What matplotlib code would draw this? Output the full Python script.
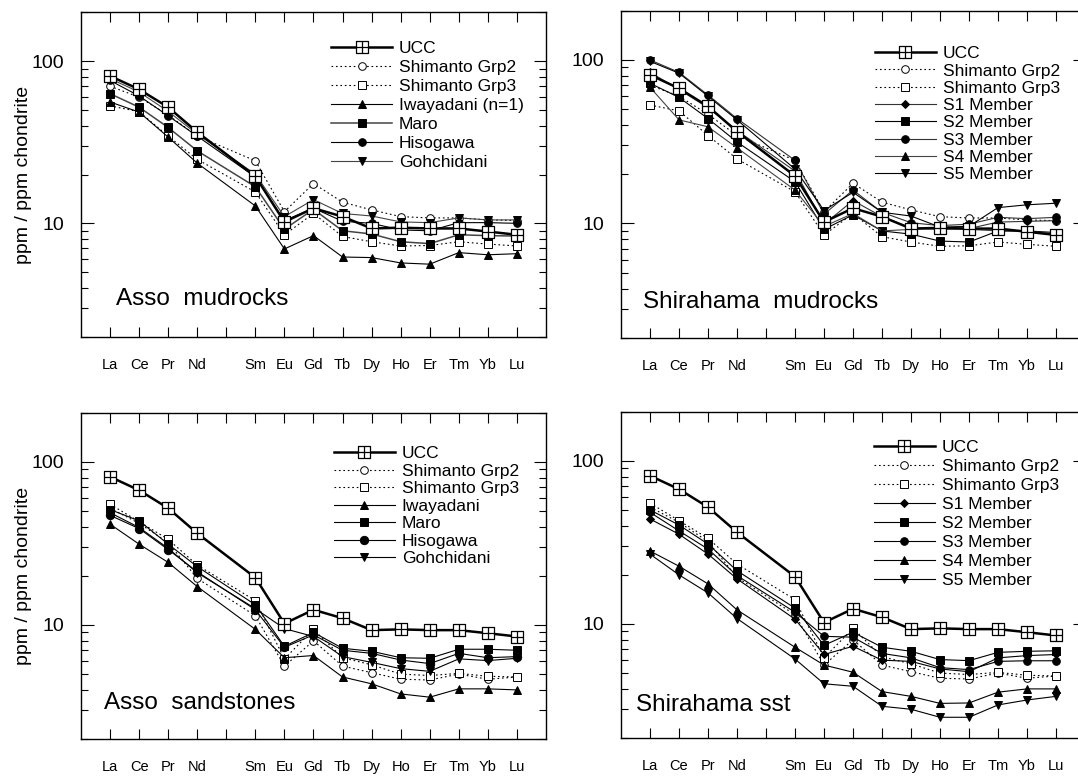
import numpy as np
import matplotlib.pyplot as plt
from matplotlib.path import Path

plt.rcParams['font.family'] = ['Liberation Sans', 'DejaVu Sans']

# REE axis (Pm keeps its slot but has no label)
ree_labels = ['La', 'Ce', 'Pr', 'Nd', '', 'Sm', 'Eu', 'Gd', 'Tb', 'Dy', 'Ho', 'Er', 'Tm', 'Yb', 'Lu']
xpos = [0, 1, 2, 3, 5, 6, 7, 8, 9, 10, 11, 12, 13, 14]

# chondrite-normalised values, La..Lu without Pm
ucc = [81, 67, 52, 36.5, 19.5, 10.2, 12.4, 11.0, 9.3, 9.4, 9.3, 9.3, 8.9, 8.5]

# mudrocks
grp2_mud = [70, 60, 46.5, 34.5, 24.3, 11.8, 17.6, 13.5, 12.1, 11.0, 10.8, 10.8, 10.5, 10.4]
grp3_mud = [53, 48.8, 34.5, 24.8, 15.6, 8.5, 11.5, 8.3, 7.7, 7.25, 7.3, 7.7, 7.45, 7.25]
iwayadani_mud = [56, 48.5, 34, 23.5, 12.8, 6.95, 8.4, 6.2, 6.15, 5.7, 5.6, 6.6, 6.4, 6.5]
maro_mud = [63, 52, 39, 28, 16.8, 9.2, 12.2, 9.0, 8.6, 7.7, 7.5, 8.5, 8.4, 8.35]
hisogawa_mud = [76, 61, 46, 34.5, 19.3, 10.4, 12.4, 10.3, 10.0, 9.1, 9.0, 10.1, 10.1, 10.0]
gohchidani_mud = [78, 64.5, 49, 35.5, 20.1, 11.0, 14.0, 11.5, 11.1, 10.2, 10.1, 10.8, 10.5, 10.5]

s1_mud = [84, 66, 51, 37, 20.9, 9.9, 13.8, 11.0, 9.4, 9.2, 9.3, 10.2, 10.3, 10.4]
s2_mud = [72, 59, 43.8, 31.5, 18.0, 9.2, 11.3, 9.0, 8.6, 7.8, 7.7, 9.0, 9.0, 8.8]
s3_mud = [100, 84, 61, 43.8, 24.3, 11.4, 16.0, 11.7, 10.1, 9.7, 9.9, 10.9, 10.7, 10.9]
s4_mud = [68, 43, 39, 29, 16.0, 9.6, 11.5, 9.0, 9.2, 9.3, 9.2, 9.0, 8.9, 8.7]
s5_mud = [98, 83, 60, 43, 21.5, 12.0, 15.5, 11.7, 11.1, 9.5, 9.6, 12.5, 13.0, 13.3]

# sandstones
grp2_sst = [52, 42, 32, 19.3, 11.4, 5.6, 8.0, 5.6, 5.1, 4.65, 4.6, 5.0, 4.65, 4.8]
grp3_sst = [55, 43, 33.5, 23.3, 14.1, 6.2, 9.4, 6.3, 5.7, 5.0, 4.9, 5.05, 4.85, 4.8]
iwayadani_sst = [41.5, 31.3, 24.2, 17.2, 9.4, 6.3, 6.5, 4.8, 4.36, 3.78, 3.61, 4.06, 4.06, 4.0]
maro_sst = [51, 43.5, 31.3, 22.8, 13.3, 7.4, 9.0, 7.2, 6.9, 6.3, 6.25, 7.1, 7.1, 7.0]
hisogawa_sst = [47, 39, 29, 21.2, 12.4, 7.3, 8.7, 7.0, 6.7, 6.1, 5.8, 6.7, 6.3, 6.4]
gohchidani_sst = [48.8, 39.6, 29.5, 20.9, 12.6, 9.5, 8.5, 6.4, 5.9, 5.4, 5.2, 6.2, 6.05, 6.25]

s1_sst = [44, 35.5, 26.8, 18.9, 10.7, 6.5, 7.3, 6.0, 5.9, 5.3, 5.1, 6.2, 6.4, 6.5]
s2_sst = [50, 40.4, 30.9, 21.2, 12.5, 7.4, 8.9, 7.2, 6.8, 6.05, 5.96, 6.7, 6.8, 6.85]
s3_sst = [48.3, 37.2, 28.8, 19.8, 11.8, 8.4, 8.3, 6.6, 6.2, 5.4, 5.25, 5.9, 5.95, 5.95]
s4_sst = [28, 22.6, 17.6, 12.2, 7.2, 5.6, 5.06, 3.85, 3.6, 3.26, 3.28, 3.82, 4.0, 4.0]
s5_sst = [26.8, 20, 15.5, 10.8, 6.1, 4.3, 4.15, 3.13, 3.0, 2.68, 2.68, 3.19, 3.42, 3.6]

# square with a cross inside, used for UCC
box_plus = Path([(-1, -1), (1, -1), (1, 1), (-1, 1), (-1, -1), (0, -1), (0, 1), (-1, 0), (1, 0)],
                [Path.MOVETO, Path.LINETO, Path.LINETO, Path.LINETO, Path.CLOSEPOLY,
                 Path.MOVETO, Path.LINETO, Path.MOVETO, Path.LINETO])

dotted = (0, (1.5, 2.5))


def style(marker, ms=5.5, open_marker=False, ls='-', lw=0.8, color='black'):
    return dict(marker=marker, ms=ms, mfc='white' if open_marker else 'black',
                mec='black', mew=0.7, ls=ls, lw=lw, color=color)


ucc_style = dict(marker=box_plus, ms=9, mfc='white', mec='black', mew=0.9, ls='-', lw=1.8, color='black')
grp2_style = style('o', 5.5, True, dotted)
grp3_style = style('s', 6, True, dotted)


def draw_panel(ax, series, title, title_xy, leg_xy, leg_spacing):
    handles = []
    for label, data, st in series:
        h, = ax.plot(xpos, data, label=label, zorder=3, **st)
        handles.append(h)
    # UCC sits on top of the other patterns
    h_ucc, = ax.plot(xpos, ucc, label='UCC', zorder=5, **ucc_style)
    handles.insert(0, h_ucc)

    ax.set_yscale('log')
    ax.set_ylim(2, 200)
    ax.set_xlim(-1, 15)
    ax.set_xticks(range(15))
    ax.set_xticklabels(ree_labels, fontsize=10.5)
    ax.set_yticks([10, 100])
    ax.set_yticklabels(['10', '100'], fontsize=14)
    ax.yaxis.set_minor_formatter(plt.NullFormatter())
    ax.tick_params(axis='x', which='both', direction='in', top=True, length=7, width=0.8, pad=15)
    ax.tick_params(axis='y', which='major', direction='in', right=True, length=9, width=0.8, pad=12)
    ax.tick_params(axis='y', which='minor', direction='in', right=True, length=5, width=0.8)
    for sp in ax.spines.values():
        sp.set_linewidth(1.0)

    ax.text(title_xy[0], title_xy[1], title, transform=ax.transAxes,
            fontsize=17.5, ha='left', va='center')
    ax.legend(handles=handles, loc='upper left', bbox_to_anchor=leg_xy, frameon=False,
              fontsize=12.5, handlelength=3.5, handletextpad=0.4, borderpad=0,
              borderaxespad=0, labelspacing=leg_spacing)


fig = plt.figure(figsize=(10.78, 7.78), dpi=100)
ax_tl = fig.add_axes([0.0751, 0.5672, 0.4314, 0.4170])
ax_tr = fig.add_axes([0.5761, 0.5659, 0.4304, 0.4203])
ax_bl = fig.add_axes([0.0751, 0.0501, 0.4314, 0.4194])
ax_br = fig.add_axes([0.5761, 0.0514, 0.4304, 0.4194])

draw_panel(ax_tl, [
    ('Shimanto Grp2', grp2_mud, grp2_style),
    ('Shimanto Grp3', grp3_mud, grp3_style),
    ('Iwayadani (n=1)', iwayadani_mud, style('^')),
    ('Maro', maro_mud, style('s', 6, lw=1.1, color='#444444')),
    ('Hisogawa', hisogawa_mud, style('o')),
    ('Gohchidani', gohchidani_mud, style('v', 6, color='#444444')),
], 'Asso  mudrocks', (0.076, 0.116), (0.538, 0.911), 0.22)

draw_panel(ax_tr, [
    ('Shimanto Grp2', grp2_mud, grp2_style),
    ('Shimanto Grp3', grp3_mud, grp3_style),
    ('S1 Member', s1_mud, style('D', 4.5, color='#333333')),
    ('S2 Member', s2_mud, style('s', 6)),
    ('S3 Member', s3_mud, style('o', 5.5, color='#333333')),
    ('S4 Member', s4_mud, style('^', 6, color='#444444')),
    ('S5 Member', s5_mud, style('v', 6)),
], 'Shirahama  mudrocks', (0.047, 0.109), (0.547, 0.892), 0.125)

draw_panel(ax_bl, [
    ('Shimanto Grp2', grp2_sst, grp2_style),
    ('Shimanto Grp3', grp3_sst, grp3_style),
    ('Iwayadani', iwayadani_sst, style('^')),
    ('Maro', maro_sst, style('s', 6)),
    ('Hisogawa', hisogawa_sst, style('o', 6)),
    ('Gohchidani', gohchidani_sst, style('v', 6)),
], 'Asso  sandstones', (0.049, 0.11), (0.544, 0.898), 0.135)

draw_panel(ax_br, [
    ('Shimanto Grp2', grp2_sst, grp2_style),
    ('Shimanto Grp3', grp3_sst, grp3_style),
    ('S1 Member', s1_sst, style('D', 4.5)),
    ('S2 Member', s2_sst, style('s', 6)),
    ('S3 Member', s3_sst, style('o', 5.5)),
    ('S4 Member', s4_sst, style('^', 6)),
    ('S5 Member', s5_sst, style('v', 6)),
], 'Shirahama sst', (0.032, 0.101), (0.545, 0.913), 0.22)

for y in (0.7757, 0.2598):
    fig.text(0.022, y, 'ppm / ppm chondrite', rotation=90, fontsize=14,
             ha='center', va='center')

fig.savefig('out.png', dpi=100)
